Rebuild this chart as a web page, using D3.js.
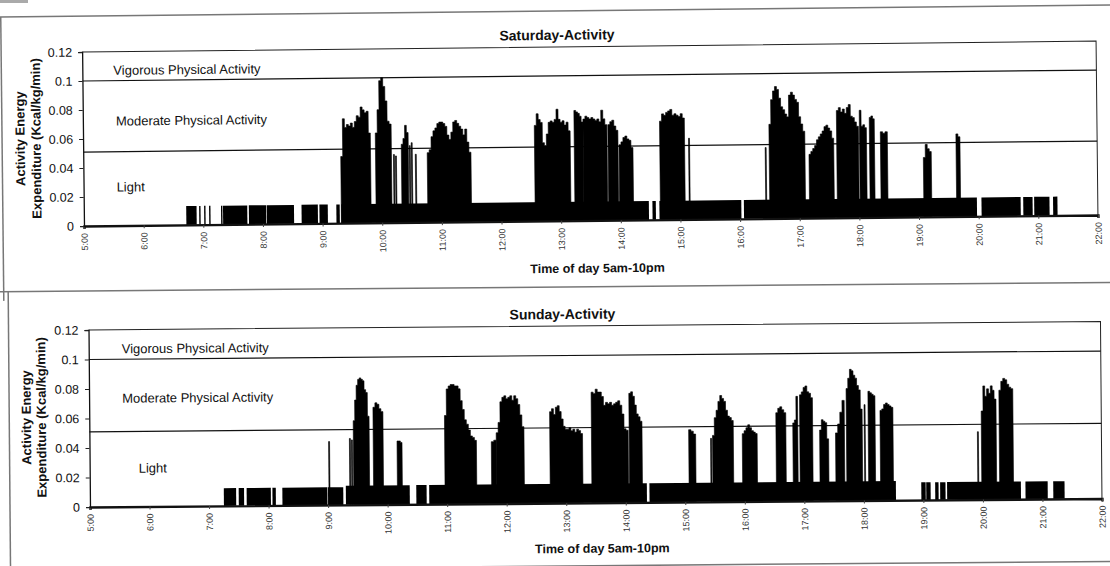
<!DOCTYPE html>
<html>
<head>
<meta charset="utf-8">
<script src="https://cdn.jsdelivr.net/npm/d3@7"></script>
<style>
  body { margin: 0; background: #fff; }
  svg text { font-family: "Liberation Sans", Arial, sans-serif; fill: #111; }
</style>
</head>
<body>
<div id="chart"></div>
<script>
var hourTicks = ["5:00", "6:00", "7:00", "8:00", "9:00", "10:00", "11:00", "12:00", "13:00",
  "14:00", "15:00", "16:00", "17:00", "18:00", "19:00", "20:00", "21:00", "22:00"];
var yTicks = [0, 0.02, 0.04, 0.06, 0.08, 0.1, 0.12];
var zoneNames = ["Vigorous Physical Activity", "Moderate Physical Activity", "Light"];
var thresholds = [0.1, 0.051];

// light activity blocks: [start, end, kcal/kg/min]
var satLight = [
  ["6:43", "6:53", 0.013], ["6:56", "6:57", 0.013], ["7:01", "7:02", 0.013], ["7:06", "7:07", 0.013],
  ["7:18", "7:19", 0.013], ["7:20", "7:44", 0.013], ["7:46", "8:03", 0.013], ["8:04", "8:31", 0.013],
  ["8:39", "8:55", 0.013], ["8:57", "9:05", 0.013], ["9:14", "9:17", 0.013], ["9:19", "14:28", 0.013],
  ["14:32", "14:35", 0.013], ["14:39", "16:01", 0.013], ["16:04", "19:15", 0.013], ["19:15", "19:58", 0.013],
  ["20:03", "20:42", 0.013], ["20:45", "20:54", 0.013], ["20:56", "21:11", 0.013], ["21:15", "21:19", 0.013]
];
// activity bursts: [start, end, readings spread evenly over the span]
var satBursts = [
  ["9:19", "9:49", [0.046, 0.072, 0.066, 0.068, 0.067, 0.069, 0.066, 0.070, 0.074, 0.073, 0.080, 0.078, 0.076, 0.077, 0.062]],
  ["9:54", "10:10", [0.062, 0.078, 0.098, 0.100, 0.094, 0.084, 0.070, 0.068]],
  ["10:12", "10:13", [0.047]],
  ["10:14", "10:15", [0.046]],
  ["10:20", "10:27", [0.054, 0.058, 0.067, 0.062]],
  ["10:28", "10:29", [0.053]],
  ["10:30", "10:31", [0.055]],
  ["10:34", "10:35", [0.047]],
  ["10:46", "11:30", [0.048, 0.050, 0.059, 0.063, 0.065, 0.068, 0.069, 0.069, 0.068, 0.066, 0.060, 0.057, 0.062, 0.069, 0.070, 0.068, 0.066, 0.064, 0.060, 0.064, 0.055, 0.048]],
  ["12:34", "13:10", [0.066, 0.074, 0.070, 0.068, 0.054, 0.052, 0.060, 0.068, 0.069, 0.068, 0.070, 0.077, 0.070, 0.068, 0.069, 0.066, 0.068, 0.062]],
  ["13:14", "13:23", [0.076, 0.075, 0.074, 0.072, 0.068]],
  ["13:23", "13:47", [0.070, 0.072, 0.071, 0.070, 0.071, 0.070, 0.069, 0.070, 0.068, 0.076, 0.070, 0.066]],
  ["13:48", "13:58", [0.066, 0.068, 0.069, 0.065, 0.062]],
  ["13:59", "14:13", [0.052, 0.054, 0.057, 0.058, 0.056, 0.055, 0.050]],
  ["14:40", "15:05", [0.068, 0.073, 0.072, 0.074, 0.075, 0.076, 0.072, 0.073, 0.072, 0.071, 0.073, 0.070]],
  ["15:09", "15:10", [0.056]],
  ["16:26", "16:27", [0.049]],
  ["16:30", "17:06", [0.065, 0.082, 0.088, 0.091, 0.089, 0.083, 0.077, 0.075, 0.072, 0.070, 0.085, 0.087, 0.085, 0.082, 0.080, 0.070, 0.065, 0.060]],
  ["17:10", "17:35", [0.044, 0.046, 0.048, 0.050, 0.054, 0.056, 0.058, 0.060, 0.063, 0.064, 0.062, 0.060, 0.055]],
  ["17:38", "18:00", [0.074, 0.076, 0.073, 0.075, 0.072, 0.076, 0.078, 0.070, 0.069, 0.066, 0.063]],
  ["18:01", "18:08", [0.074, 0.063, 0.064, 0.062]],
  ["18:11", "18:16", [0.069, 0.070, 0.068]],
  ["18:22", "18:29", [0.059, 0.058, 0.059]],
  ["19:05", "19:13", [0.041, 0.050, 0.047, 0.045]],
  ["19:38", "19:42", [0.057, 0.055]]
];

var sunLight = [
  ["7:15", "7:27", 0.012], ["7:30", "7:35", 0.012], ["7:38", "8:02", 0.012], ["8:04", "8:07", 0.012],
  ["8:14", "8:59", 0.012], ["9:00", "9:15", 0.012], ["9:18", "10:22", 0.013], ["10:29", "10:39", 0.013],
  ["10:42", "14:21", 0.013], ["14:24", "18:32", 0.013], ["18:58", "19:02", 0.012], ["19:03", "19:07", 0.012],
  ["19:12", "19:15", 0.012], ["19:17", "19:22", 0.012], ["19:24", "20:38", 0.012], ["20:43", "21:05", 0.012],
  ["21:11", "21:22", 0.012]
];
var sunBursts = [
  ["9:01", "9:02", [0.043]],
  ["9:22", "9:23", [0.045]],
  ["9:24", "9:25", [0.044]],
  ["9:26", "9:42", [0.057, 0.071, 0.081, 0.085, 0.086, 0.085, 0.084, 0.078, 0.076, 0.060]],
  ["9:46", "9:56", [0.066, 0.069, 0.068, 0.065, 0.063]],
  ["10:10", "10:15", [0.043, 0.043, 0.042]],
  ["10:58", "11:30", [0.060, 0.078, 0.080, 0.081, 0.081, 0.080, 0.080, 0.078, 0.070, 0.064, 0.057, 0.054, 0.050, 0.046, 0.045, 0.043]],
  ["11:45", "11:50", [0.042, 0.043]],
  ["11:50", "12:18", [0.048, 0.055, 0.069, 0.072, 0.073, 0.071, 0.072, 0.073, 0.070, 0.073, 0.071, 0.067, 0.060, 0.052]],
  ["12:44", "13:17", [0.062, 0.064, 0.060, 0.065, 0.066, 0.062, 0.057, 0.052, 0.050, 0.050, 0.051, 0.049, 0.050, 0.048, 0.050, 0.049, 0.047]],
  ["13:26", "14:03", [0.075, 0.074, 0.077, 0.075, 0.075, 0.072, 0.066, 0.068, 0.067, 0.068, 0.066, 0.067, 0.068, 0.069, 0.066, 0.060, 0.050, 0.049]],
  ["14:04", "14:17", [0.074, 0.075, 0.072, 0.066, 0.060, 0.058, 0.055]],
  ["15:04", "15:11", [0.049, 0.048, 0.046]],
  ["15:26", "15:27", [0.043]],
  ["15:28", "15:49", [0.045, 0.057, 0.062, 0.068, 0.072, 0.070, 0.068, 0.062, 0.058, 0.057, 0.055]],
  ["15:58", "16:13", [0.046, 0.048, 0.050, 0.052, 0.050, 0.048, 0.047, 0.046]],
  ["16:32", "16:42", [0.060, 0.063, 0.064, 0.062, 0.060]],
  ["16:49", "16:54", [0.053, 0.055, 0.071]],
  ["16:56", "17:09", [0.072, 0.074, 0.077, 0.078, 0.074, 0.073, 0.070]],
  ["17:16", "17:25", [0.048, 0.055, 0.054, 0.053, 0.042]],
  ["17:32", "17:41", [0.046, 0.052, 0.060, 0.068]],
  ["17:43", "17:59", [0.076, 0.083, 0.089, 0.088, 0.085, 0.083, 0.078, 0.075, 0.062]],
  ["18:01", "18:02", [0.065]],
  ["18:05", "18:12", [0.074, 0.073, 0.072, 0.071]],
  ["18:17", "18:30", [0.061, 0.062, 0.065, 0.066, 0.065, 0.064, 0.063]],
  ["19:55", "19:56", [0.046]],
  ["19:59", "20:14", [0.060, 0.077, 0.070, 0.075, 0.072, 0.077, 0.074, 0.068]],
  ["20:17", "20:31", [0.074, 0.080, 0.082, 0.081, 0.078, 0.076, 0.075]]
];

var parseTime = d3.timeParse("%H:%M");
var fmtTime = d3.timeFormat("%-H:%M");

var svg = d3.select("#chart").append("svg")
  .attr("width", 1110)
  .attr("height", 566);

// scanned page: small grey mark top-left
svg.append("rect").attr("x", 0).attr("y", 0).attr("width", 28).attr("height", 3).attr("fill", "#aaa");

var panels = [
  { title: "Saturday-Activity", light: satLight, bursts: satBursts,
    left: 84, right: 1098, top: 52, bottom: 226, tilt: -0.62,
    titleX: 559, titleY: 45, xTitleX: 597, xTitleY: 278,
    yTitleX: [21, 37], yTitleY: 138, zoneX: [31, 33, 33], zoneY: [0.104, 0.069, 0.0235],
    frame: [[3, 16, 3, 300], [-10, 16, 1120, 16]] },
  { title: "Sunday-Activity", light: sunLight, bursts: sunBursts,
    left: 90, right: 1102, top: 330, bottom: 507, tilt: -0.48,
    titleX: 564, titleY: 323, xTitleX: 602, xTitleY: 557,
    yTitleX: [27, 42], yTitleY: 417, zoneX: [33, 33, 49], zoneY: [0.104, 0.0705, 0.023],
    frame: [[-10, 291, 1120, 291], [10, 291, 10, 590], [-10, 570, 1120, 570]] }
];

panels.forEach(function (p) { drawPanel(p); });

function drawPanel(p) {
  var g = svg.append("g")
    .attr("transform", "rotate(" + p.tilt + "," + p.left + "," + p.bottom + ")");

  var x = d3.scaleTime()
    .domain([parseTime(hourTicks[0]), parseTime(hourTicks[hourTicks.length - 1])])
    .range([p.left, p.right]);
  var y = d3.scaleLinear().domain([0, 0.12]).range([p.bottom, p.top]);

  // outer frame of the scanned figure
  g.selectAll(".frame").data(p.frame).join("line")
    .attr("class", "frame")
    .attr("x1", d => d[0]).attr("y1", d => d[1])
    .attr("x2", d => d[2]).attr("y2", d => d[3])
    .attr("stroke", "#777").attr("stroke-width", 1.5);

  // plot area top and right edge
  g.append("path")
    .attr("d", "M" + p.left + "," + p.top + "H" + p.right + "V" + p.bottom)
    .attr("fill", "none").attr("stroke", "#222").attr("stroke-width", 1);

  // intensity thresholds
  g.selectAll(".thr").data(thresholds).join("line")
    .attr("class", "thr")
    .attr("x1", p.left).attr("x2", p.right)
    .attr("y1", d => y(d)).attr("y2", d => y(d))
    .attr("stroke", "#111").attr("stroke-width", 1.2);

  g.selectAll(".zone").data(zoneNames).join("text")
    .attr("class", "zone")
    .attr("x", (d, i) => p.left + p.zoneX[i])
    .attr("y", (d, i) => y(p.zoneY[i]))
    .style("font-size", "13px")
    .text(d => d);

  // light blocks
  g.append("g").selectAll("rect").data(p.light).join("rect")
    .attr("x", d => x(parseTime(d[0])))
    .attr("width", d => x(parseTime(d[1])) - x(parseTime(d[0])) + 0.4)
    .attr("y", d => y(d[2]))
    .attr("height", d => y(0) - y(d[2]))
    .attr("fill", "#000");

  // bursts as solid step areas
  var area = d3.area()
    .x(d => x(d.t))
    .y0(y(0))
    .y1(d => y(d.v))
    .curve(d3.curveStepAfter);
  var shapes = p.bursts.map(function (b) {
    var t0 = +parseTime(b[0]), t1 = +parseTime(b[1]);
    var dt = (t1 - t0) / b[2].length;
    var pts = b[2].map((v, i) => ({ t: new Date(t0 + i * dt), v: v }));
    pts.push({ t: new Date(t1), v: b[2][b[2].length - 1] });
    return pts;
  });
  g.append("g").selectAll("path").data(shapes).join("path")
    .attr("d", area)
    .attr("fill", "#000")
    .attr("stroke", "#000")
    .attr("stroke-width", 0.6);

  // axes
  var xAxis = g.append("g")
    .attr("transform", "translate(0," + p.bottom + ")")
    .call(d3.axisBottom(x).tickValues(hourTicks.map(parseTime)).tickFormat(fmtTime).tickSize(3));
  xAxis.select(".domain").attr("stroke", "#111").attr("stroke-width", 2.4);
  xAxis.selectAll(".tick line").attr("stroke", "#444");
  xAxis.selectAll("text")
    .attr("transform", "rotate(-90)")
    .attr("text-anchor", "end")
    .attr("x", -7).attr("y", 0).attr("dy", "0.35em")
    .style("font-size", "9px")
    .style("fill", "#333");

  var yAxis = g.append("g")
    .attr("transform", "translate(" + p.left + ",0)")
    .call(d3.axisLeft(y).tickValues(yTicks).tickFormat(d => String(d)).tickSize(4).tickPadding(6));
  yAxis.select(".domain").attr("stroke", "#111").attr("stroke-width", 1.3);
  yAxis.selectAll(".tick line").attr("stroke", "#222");
  yAxis.selectAll("text").style("font-size", "12.5px").style("fill", "#111");

  // titles
  g.append("text")
    .attr("x", p.titleX).attr("y", p.titleY)
    .attr("text-anchor", "middle")
    .style("font-size", "14px").style("font-weight", "bold")
    .text(p.title);

  g.append("text")
    .attr("x", p.xTitleX).attr("y", p.xTitleY)
    .attr("text-anchor", "middle")
    .style("font-size", "12.5px").style("font-weight", "bold")
    .text("Time of day 5am-10pm");

  g.selectAll(".ytitle").data(["Activity Energy", "Expenditure (Kcal/kg/min)"]).join("text")
    .attr("class", "ytitle")
    .attr("transform", (d, i) => "translate(" + p.yTitleX[i] + "," + p.yTitleY + ") rotate(-90)")
    .attr("text-anchor", "middle")
    .attr("dy", "0.35em")
    .style("font-size", "13px").style("font-weight", "bold")
    .text(d => d);
}
</script>
</body>
</html>
